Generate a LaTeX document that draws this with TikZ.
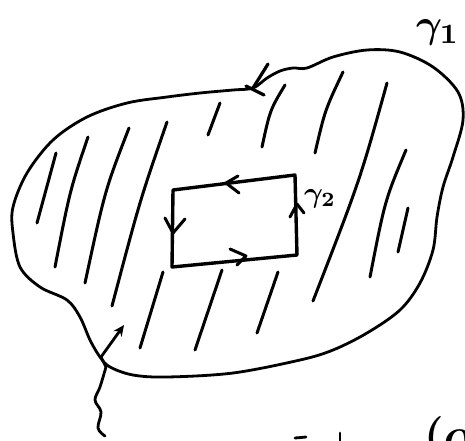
\documentclass[tikz,border=0pt]{standalone}
\usepackage{graphicx}
\usepackage{amsmath,amssymb}
\usepackage{bm}
\usetikzlibrary{arrows.meta}
\begin{document}
\begin{tikzpicture}[x=1pt,y=-1pt,
  ink/.style={line width=2.8pt,line cap=round,line join=round},
  hatch/.style={line width=3pt,line cap=round},
  lbl/.style={inner sep=0pt}]
\useasboundingbox (0,0) rectangle (465,440);
\clip (0,0) rectangle (465,440);
% outer curve gamma_1
\draw[ink] plot[smooth cycle,tension=0.55] coordinates {
 (253,88) (267,78) (280,71) (293,68) (307,68) (333,57) (367,50) (400,52)
 (433,67) (458,92) (463,120) (453,157) (443,187) (437,217) (433,250)
 (420,283) (400,310) (367,333) (333,350) (300,360) (233,373) (167,377)
 (133,375) (110,367) (100,357) (90,340) (80,317) (67,300) (40,287)
 (20,267) (13,233) (13,207) (27,173) (53,140) (87,117) (127,103)
 (167,97) (200,93) (233,90)};
% arrow mark on gamma_1
\coordinate (a1) at (253,88);
\draw[ink,line width=3.2pt] (268,64) -- (a1);
\draw[ink,line width=3.2pt] (246,86) -- (264,95);
% hatching
\draw[hatch] (56,153) -- (37,223);
\draw[hatch] (88,137) .. controls (70,190) .. (55,267);
\draw[hatch] (129,128) .. controls (105,190) .. (85,283);
\draw[hatch] (167,122) .. controls (140,200) .. (112,306);
\draw[hatch] (220,103) -- (208,135);
\draw[hatch] (285,85) .. controls (270,110) .. (262,147);
\draw[hatch] (343,72) .. controls (325,110) .. (315,153);
\draw[hatch] (387,83) .. controls (360,180) .. (313,301);
\draw[hatch] (406,150) .. controls (385,200) .. (370,277);
\draw[hatch] (408,208) -- (398,252);
\draw[hatch] (163,272) -- (140,348);
\draw[hatch] (222,270) -- (195,350);
\draw[hatch] (278,272) -- (257,333);
% rectangle gamma_2
\coordinate (tl) at (173,190);
\coordinate (tr) at (295,175);
\coordinate (br) at (297,255);
\coordinate (bl) at (172,267);
\draw[ink,line width=3.4pt] (tl) -- (tr) -- (br) -- (bl) -- cycle;
% arrowheads on the rectangle
\draw[ink,line width=3pt] (238,176) -- (226,183) -- (239,193);
\draw[ink,line width=3pt] (165,218) -- (173,233) -- (185,219);
\draw[ink,line width=3pt] (230,249) -- (246,256) -- (237,265);
\draw[ink,line width=3pt] (290,217) -- (297,204) -- (304,213);
% labels
\node[lbl] (g1) at (438,32) {\scalebox{4.0}{$\bm{\gamma}_{\mathbf 1}$}};
\node[lbl] (g2) at (320,199) {\scalebox{2.9}{$\bm{\gamma}_{\mathbf 2}$}};
% wiggly arrow at lower left
\coordinate (w0) at (105,436);
\coordinate (w1) at (98,428);
\coordinate (w2) at (101,412);
\coordinate (w3) at (95,400);
\coordinate (w4) at (100,387);
\coordinate (w5) at (106,367);
\coordinate (w6) at (101,357);
\coordinate (tip) at (124,325);
\draw[ink] plot[smooth,tension=0.6] coordinates {(w0) (w1) (w2) (w3) (w4) (w5)};
\draw[ink,-{Stealth[length=11pt,width=10pt]}] (w5) -- (w6) -- (tip);
% cut-off text at the bottom (cut off in the reference too)
\node[lbl,anchor=north west] (al) at (424,416) {\scalebox{4.4}{$\bm{(\alpha}$}};
\draw[ink] (295,438) -- (306,437);
\draw[ink] (340,433) -- (340,441);
\end{tikzpicture}
\end{document}
